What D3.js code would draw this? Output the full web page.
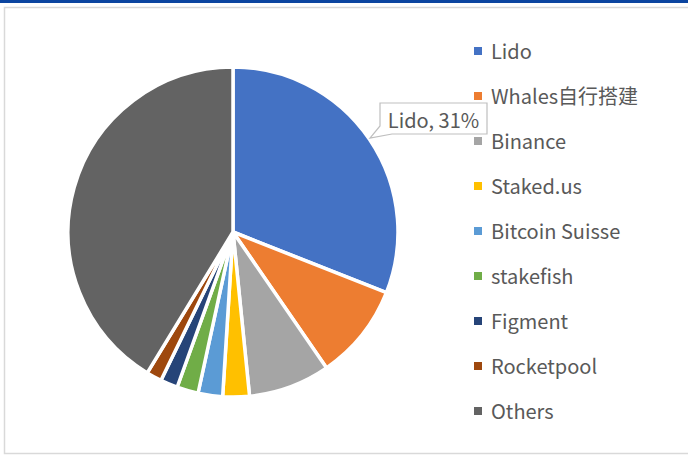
<!DOCTYPE html>
<html><head><meta charset="utf-8">
<script src="https://cdn.jsdelivr.net/npm/d3@7"></script>
<style>body{margin:0;background:#fff}svg{display:block}</style>
</head><body>
<svg id="c" width="688" height="457"></svg>
<script>
const categories = ["Lido","Whales自行搭建","Binance","Staked.us","Bitcoin Suisse","stakefish","Figment","Rocketpool","Others"];
const shares = [31, 9.4, 8.0, 2.6, 2.4, 2.1, 1.7, 1.5, 41.3];
const colors = ["#4472C4","#ED7D31","#A5A5A5","#FFC000","#5B9BD5","#70AD47","#264478","#9E480E","#636363"];
const labelText = "Lido, 31%";

const svg = d3.select("#c");
const font = "'Noto Sans CJK SC','Open Sans',sans-serif";
svg.append("rect").attr("x",0).attr("y",0).attr("width",688).attr("height",3).attr("fill","#0b45a0");
svg.append("rect").attr("x",4.5).attr("y",7.5).attr("width",700).attr("height",446).attr("fill","#fff").attr("stroke","#d9d9d9").attr("stroke-width",1.5);

const cx=233, cy=232, r=165;
const pie = d3.pie().sort(null).value(d=>d.v);
const data = categories.map((c,i)=>({c, v:shares[i], col:colors[i]}));
const arcs = pie(data);
const arc = d3.arc().innerRadius(0).outerRadius(r);
const g = svg.append("g").attr("transform",`translate(${cx},${cy})`);
g.selectAll("path").data(arcs).join("path")
  .attr("d",arc).attr("fill",d=>d.data.col)
  .attr("stroke","#fff").attr("stroke-width",3.5).attr("stroke-linejoin","round");

// callout
const bx=380, by=103, bw=107, bh=31, tipx=370, tipy=138;
svg.append("path")
  .attr("d",`M${bx},${by} H${bx+bw} V${by+bh} H${bx+12} L${tipx},${tipy} L${bx},${by+bh-8} Z`)
  .attr("fill","#fff").attr("stroke","#bfbfbf").attr("stroke-width",1.2);
svg.append("text").attr("x",bx+bw/2).attr("y",by+bh/2+1).attr("text-anchor","middle")
  .attr("dominant-baseline","central").attr("font-family",font).attr("font-size",20)
  .attr("fill","#595959").text(labelText);

// legend
const ly = d3.scalePoint().domain(categories).range([51,411]);
const lg = svg.append("g");
categories.forEach((c,i)=>{
  lg.append("rect").attr("x",474).attr("y",ly(c)-4).attr("width",8).attr("height",8).attr("fill",colors[i]);
  lg.append("text").attr("x",491).attr("y",ly(c)-1).attr("dominant-baseline","central")
    .attr("font-family",font).attr("font-size",20).attr("fill","#595959").text(c);
});
</script>
</body></html>
